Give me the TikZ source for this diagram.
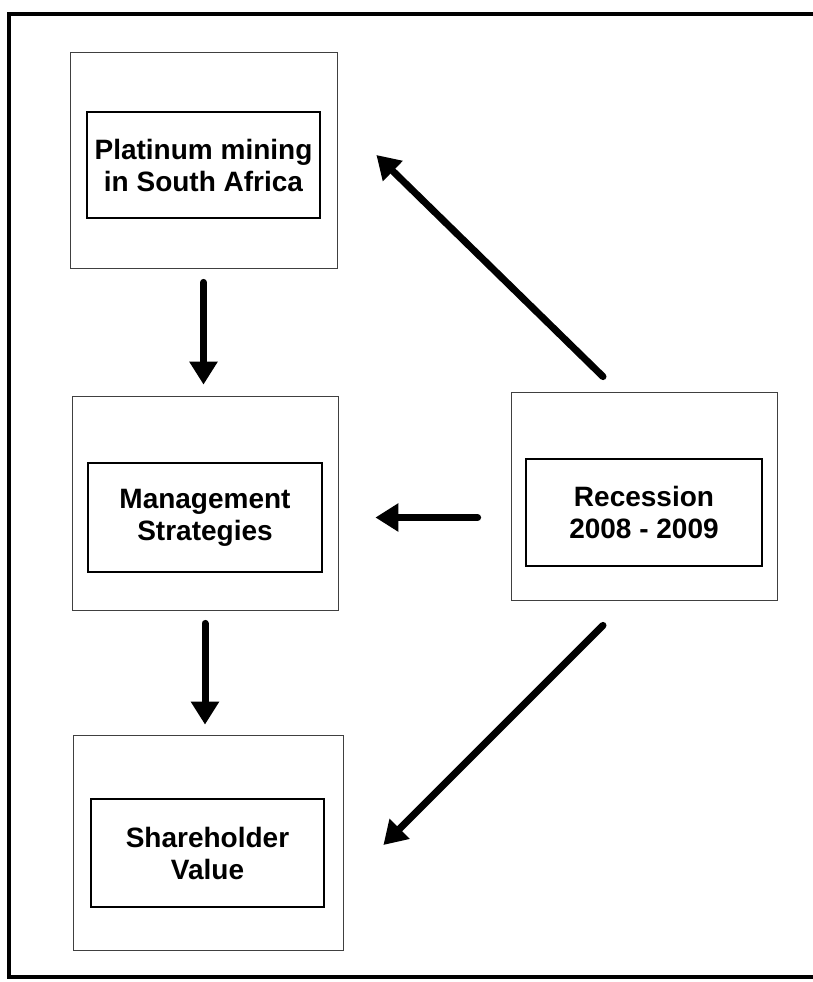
\documentclass[tikz,border=0pt]{standalone}
\usepackage{fontspec}
\setmainfont{Liberation Sans}
\usetikzlibrary{arrows.meta}
\begin{document}
\begin{tikzpicture}[x=1pt,y=-1pt,
  outerbox/.style={draw=black!75,line width=0.8pt,minimum width=#1,inner sep=0pt},
  innerbox/.style={draw=black,line width=1.3pt,inner sep=0pt,align=center,
    font=\bfseries\fontsize{28}{32}\selectfont},
  arr/.style={line width=7pt,line cap=round,-{Triangle[length=23pt,width=27pt]}}]
\clip (0,0) rectangle (813,982);
\fill[white] (0,0) rectangle (813,982);
\draw[line width=4.5pt] (9,14) rectangle (840,977);
% outer boxes
\node[outerbox=267pt,minimum height=216pt] (b1o) at (203.5,160) {};
\node[outerbox=266pt,minimum height=214pt] (b2o) at (205,503) {};
\node[outerbox=266pt,minimum height=208pt] (b3o) at (644,496) {};
\node[outerbox=270pt,minimum height=215pt] (b4o) at (208,842.5) {};
% inner boxes
\node[innerbox,minimum width=233pt,minimum height=106pt] (b1i) at (203.5,165) {Platinum mining\\in South Africa};
\node[innerbox,minimum width=234pt,minimum height=109pt] (b2i) at (205,517.5) {Management\\Strategies};
\node[innerbox,minimum width=236pt,minimum height=107pt] (b3i) at (644,512.5) {Recession\\2008 - 2009};
\node[innerbox,minimum width=233pt,minimum height=108pt] (b4i) at (207.5,853) {Shareholder\\Value};
% arrows
\draw[arr,shorten <=14pt,shorten >=11pt] (b1o.south) -- (b1o.south |- b2o.north);
\draw[arr,shorten <=13pt,shorten >=10pt] (b2o.south) -- (b2o.south |- b4o.north);
\draw[arr,shorten <=33pt,shorten >=37pt] (b3o.west |- b2i.center) -- (b2o.east |- b2i.center);
\draw[arr] ([xshift=-41pt,yshift=15pt]b3o.north) -- ([xshift=39pt,yshift=5pt]b1o.east);
\draw[arr] ([xshift=-41pt,yshift=-25pt]b3o.south) -- ([xshift=40pt,yshift=-2.5pt]b4o.east);
\end{tikzpicture}
\end{document}
